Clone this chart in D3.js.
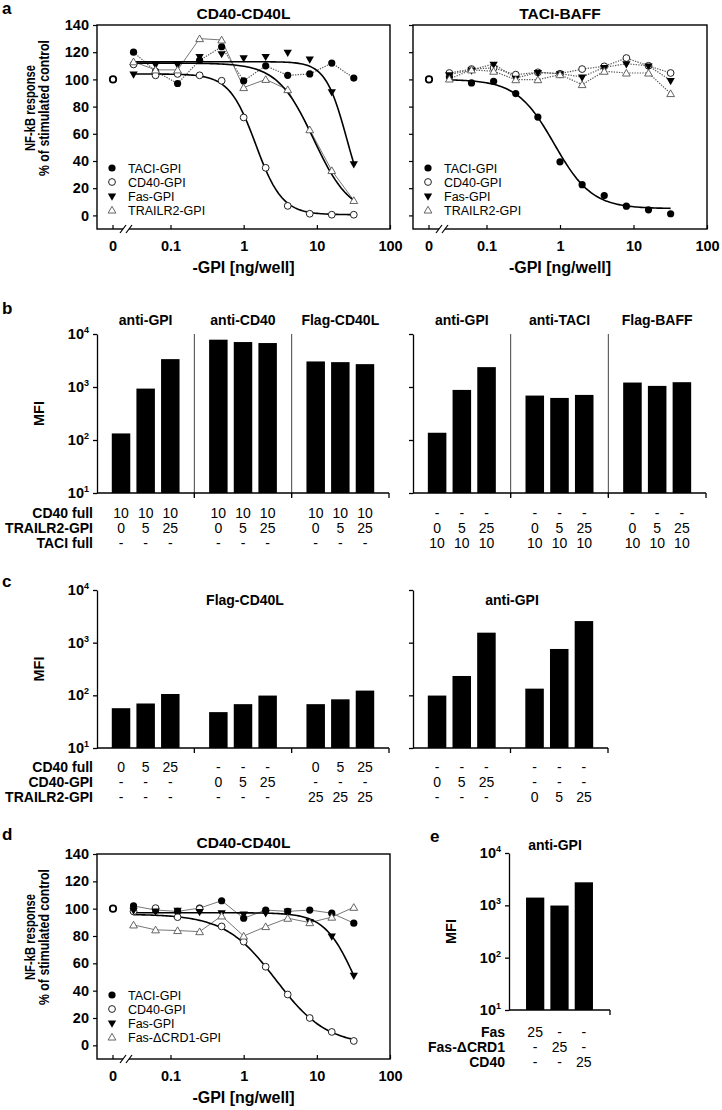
<!DOCTYPE html>
<html><head><meta charset="utf-8">
<script src="https://cdn.jsdelivr.net/npm/d3@7"></script>
<style>body{margin:0;background:#fff} svg{display:block}</style>
</head><body><svg id="fig" width="722" height="1110"></svg>
<script>
// ---------- DATA ----------
const conc = [0.03125,0.0625,0.125,0.25,0.5,1,2,4,8,16,32];
const zeroControl = 100;
const yTicksDR = [0,20,40,60,80,100,120,140];
const xTickValsDR = [0.1,1,10,100];
const xTickLabelsDR = ["0.1","1","10","100"];
const legendA = ["TACI-GPI","CD40-GPI","Fas-GPI","TRAILR2-GPI"];
const legendD = ["TACI-GPI","CD40-GPI","Fas-GPI","Fas-\u0394CRD1-GPI"];

// panel a, CD40-CD40L
const aL_TACI    = [120,106,97,114,124,99,110,103,104,112,101];
const aL_CD40    = [111,103,104,103,99,72,35,7,1.2,0.5,0.5];
const aL_Fas     = [104,111,111,117,119,116,117,120,115,91,38];
const aL_TRAILR2 = [113,107,107,130,129,94,100,92.5,63,33,11];
// fit parameters [top, bottom, IC50, hill]
const aL_fitCD40    = [104,0.5,1.46,2.4];
const aL_fitFas     = [113,0,25.6,3.0];
const aL_fitTRAILR2 = [112,0,9.05,1.75];

// panel a, TACI-BAFF
const aR_TACI    = [102,97.4,98.6,89.6,72.3,39.4,22.6,14.6,6.8,4.1,1.2];
const aR_CD40    = [104.7,107.6,108.4,103.5,105.2,104.2,107.6,109.6,115.7,110,104.7];
const aR_Fas     = [103.5,107,111.3,101,105.2,104.2,101.8,108.9,111.5,110,99.3];
const aR_TRAILR2 = [100.3,107,106,99.8,99.8,103.5,96.2,106,104.7,104.7,89.6];
const aR_fitTACI = [100,5,0.836,1.7];

// panel d, CD40-CD40L
const d_TACI     = [102,99,98,100.4,105.8,93,99,98,99,96.7,89.4];
const d_CD40     = [98,100.4,93.8,99.9,87,75.9,57.5,37.2,20,9.8,3.2];
const d_Fas      = [99,98.4,99,98,97,96.2,97,98.4,90.6,80,51.4];
const d_FasDCRD1 = [88.1,84.5,84,83.2,94.7,80,86.9,93,89.8,93.8,101];
const d_fitCD40  = [96,0,2.75,1.25];
const d_fitFas   = [97,0,33.6,2.09];

// bar panels (MFI)
const logTicks = [10,100,1000,10000];
const logTickExp = ["1","2","3","4"];
const bGroupsL = ["anti-GPI","anti-CD40","Flag-CD40L"];
const bValsL = [[133,933,3357],[7810,7050,6750],[3035,2945,2700]];
const bGroupsR = ["anti-GPI","anti-TACI","Flag-BAFF"];
const bValsR = [[137,881,2371],[689,622,709],[1213,1049,1232]];
const bRowLabels = ["CD40 full","TRAILR2-GPI","TACI full"];
const bRowsL = [["10","10","10"],["0","5","25"],["-","-","-"]];
const bRowsR = [["-","-","-"],["0","5","25"],["10","10","10"]];

const cTitleL = "Flag-CD40L", cTitleR = "anti-GPI";
const cValsL = [[57,70,106],[48,68,99],[68,84,123]];
const cValsR = [[99,233,1548],[134,759,2570]];
const cRowLabels = ["CD40 full","CD40-GPI","TRAILR2-GPI"];
const cRowsL = [
  [["0","5","25"],["-","-","-"],["-","-","-"]],
  [["-","-","-"],["0","5","25"],["-","-","-"]],
  [["0","5","25"],["-","-","-"],["25","25","25"]]];
const cRowsR = [
  [["-","-","-"],["0","5","25"],["-","-","-"]],
  [["-","-","-"],["-","-","-"],["0","5","25"]]];

const eTitle = "anti-GPI";
const eVals = [1406,991,2754];
const eRowLabels = ["Fas","Fas-\u0394CRD1","CD40"];
const eRows = [["25","-","-"],["-","25","-"],["-","-","25"]];

// ---------- DRAWING ----------
const FONT = "'Liberation Sans', Arial, Helvetica, sans-serif";
const svg = d3.select("#fig");

function txt(g, x, y, s, o = {}) {
  const t = g.append("text").attr("x", x).attr("y", y).text(s)
    .attr("font-family", FONT).attr("font-size", o.size || 14)
    .attr("font-weight", o.bold ? "bold" : "normal")
    .attr("text-anchor", o.anchor || "middle").attr("fill", "#000");
  if (o.rotate) t.attr("transform", `rotate(-90,${x},${y})`);
  if (o.len) t.attr("textLength", o.len).attr("lengthAdjust", "spacingAndGlyphs");
  return t;
}

function symbol(g, kind, x, y) {
  if (kind === "fc") g.append("circle").attr("cx", x).attr("cy", y).attr("r", 3.6).attr("fill", "#000");
  else if (kind === "oc") g.append("circle").attr("cx", x).attr("cy", y).attr("r", 3.4).attr("fill", "#fff").attr("stroke", "#222").attr("stroke-width", 1);
  else if (kind === "ft") g.append("path").attr("d", d3.symbol(d3.symbolTriangle, 30)()).attr("transform", `translate(${x},${y}) rotate(180)`).attr("fill", "#000");
  else if (kind === "ot") g.append("path").attr("d", d3.symbol(d3.symbolTriangle, 26)()).attr("transform", `translate(${x},${y + 0.8})`).attr("fill", "#fff").attr("stroke", "#555").attr("stroke-width", 0.9);
}

function fitVal(p, xv) { return p[1] + (p[0] - p[1]) / (1 + Math.pow(xv / p[2], p[3])); }

function drawDR(c) {
  const g = svg.append("g");
  const y = d3.scaleLinear().domain([-10, 140]).range([c.bottom, c.top]);
  const x = d3.scaleLog().domain([0.1, 100]).range([c.left + 73.5, c.right]);
  const x0 = c.left + 16;

  const ya = g.append("g").attr("transform", `translate(${c.left},0)`)
    .call(d3.axisLeft(y).tickValues(yTicksDR).tickSize(4).tickPadding(4).tickFormat(c.yLabels ? d3.format("d") : ""));
  ya.select(".domain").remove();
  ya.selectAll("line").attr("stroke", "#000").attr("stroke-width", 1.2);
  ya.selectAll("text").attr("font-family", FONT).attr("font-size", 14.5).attr("font-weight", "bold").attr("fill", "#000");

  const xa = g.append("g").attr("transform", `translate(0,${c.bottom})`)
    .call(d3.axisBottom(x).tickValues(xTickValsDR).tickSize(-4).tickPadding(12).tickFormat((d, i) => xTickLabelsDR[i]));
  xa.select(".domain").remove();
  xa.selectAll("line").attr("stroke", "#000").attr("stroke-width", 1.2);
  xa.selectAll("text").attr("font-family", FONT).attr("font-size", 14.5).attr("font-weight", "bold").attr("fill", "#000");
  g.append("line").attr("x1", x0).attr("x2", x0).attr("y1", c.bottom).attr("y2", c.bottom - 4).attr("stroke", "#000").attr("stroke-width", 1.2);
  txt(g, x0, c.bottom + 22, "0", { bold: true, size: 14.5 });

  g.append("rect").attr("x", c.left).attr("y", c.top).attr("width", c.right - c.left).attr("height", c.bottom - c.top)
    .attr("fill", "none").attr("stroke", "#000").attr("stroke-width", 1.4);

  const bx = c.left + 29;
  g.append("rect").attr("x", bx - 3).attr("y", c.bottom - 2).attr("width", 6).attr("height", 4).attr("fill", "#fff");
  [-3, 3].forEach(o => g.append("line").attr("x1", bx + o - 3).attr("y1", c.bottom + 4).attr("x2", bx + o + 3).attr("y2", c.bottom - 4)
    .attr("stroke", "#000").attr("stroke-width", 1.2));

  const line = d3.line().x((d, i) => x(conc[i])).y(d => y(d));
  c.series.forEach(s => {
    if (s.line === "dotted") g.append("path").attr("d", line(s.vals)).attr("fill", "none").attr("stroke", "#555").attr("stroke-width", 1.2).attr("stroke-dasharray", "1.3,1.3");
    if (s.line === "solid") g.append("path").attr("d", line(s.vals)).attr("fill", "none").attr("stroke", "#777").attr("stroke-width", 1);
  });
  const lx0 = Math.log10(conc[0]), lx1 = Math.log10(conc[conc.length - 1]);
  const grid = d3.range(0, 121).map(i => Math.pow(10, lx0 + (lx1 - lx0) * i / 120));
  c.series.forEach(s => {
    if (s.fit) g.append("path").attr("d", d3.line().x(d => x(d)).y(d => y(fitVal(s.fit, d)))(grid))
      .attr("fill", "none").attr("stroke", "#000").attr("stroke-width", 1.6);
  });
  c.series.forEach(s => s.vals.forEach((v, i) => symbol(g, s.sym, x(conc[i]), y(v))));
  g.append("circle").attr("cx", x0).attr("cy", y(zeroControl)).attr("r", 3.2).attr("fill", "#fff").attr("stroke", "#000").attr("stroke-width", 1.8);

  c.legend.forEach((name, i) => {
    const ly = c.legendY + i * 14;
    symbol(g, c.series[i].sym, c.left + 15, ly);
    txt(g, c.left + 31, ly + 4.5, name, { size: 12.5, anchor: "start" });
  });

  const cx = (c.left + c.right) / 2;
  txt(g, cx, c.top - 6, c.title, { size: 15.5, bold: true });
  txt(g, cx, c.bottom + 44, "-GPI [ng/well]", { size: 16, bold: true });
  if (c.yLabels) {
    const cy = c.top + 83;
    txt(g, 35, cy, "NF-kB response", { size: 15.5, bold: true, rotate: true, len: 86 });
    txt(g, 49, cy, "% of stimulated control", { size: 15.5, bold: true, rotate: true, len: 136 });
  }
}

function logLabel(g, x, y, exp) {
  const t = g.append("text").attr("x", x).attr("y", y).attr("text-anchor", "end")
    .attr("font-family", FONT).attr("font-weight", "bold").attr("fill", "#000");
  t.append("tspan").attr("font-size", 14.5).text("10");
  t.append("tspan").attr("font-size", 9).attr("dy", -6).text(exp);
}

function drawBars(c) {
  const g = svg.append("g");
  const y = d3.scaleLog().domain([10, 10000]).range([c.bottom, c.top]);
  const gx = d3.scaleBand().domain(d3.range(c.vals.length)).range([c.x0, c.x1]).padding(0);
  const ix = d3.scaleBand().domain([0, 1, 2]).range([0, gx.bandwidth()]).paddingInner(0.25).paddingOuter(c.outer || 0.6);

  if (c.separators) d3.range(1, c.vals.length).forEach(k => {
    const sx = gx(k);
    g.append("line").attr("x1", sx).attr("x2", sx).attr("y1", c.top).attr("y2", c.bottom + 4).attr("stroke", "#444").attr("stroke-width", 1);
  });
  c.vals.forEach((grp, gi) => grp.forEach((v, i) => {
    g.append("rect").attr("x", gx(gi) + ix(i)).attr("y", y(v)).attr("width", ix.bandwidth()).attr("height", c.bottom - y(v)).attr("fill", "#000");
  }));
  const ya = g.append("g").attr("transform", `translate(${c.x0},0)`)
    .call(d3.axisLeft(y).tickValues(logTicks).tickSize(4).tickSizeOuter(0).tickFormat(""));
  ya.selectAll("line").attr("stroke", "#000").attr("stroke-width", 1.3);
  ya.select(".domain").attr("stroke", "#000").attr("stroke-width", 1.3);
  if (c.yLabels) {
    logTicks.forEach((t, i) => logLabel(g, c.x0 - 8, y(t) + 5, logTickExp[i]));
    txt(g, c.x0 - 53, (c.top + c.bottom) / 2, "MFI", { size: 14.5, bold: true, rotate: true });
  }
  g.append("line").attr("x1", c.x0).attr("x2", c.x1).attr("y1", c.bottom).attr("y2", c.bottom).attr("stroke", "#000").attr("stroke-width", 1.3);
  d3.range(1, c.vals.length + 1).forEach(k => {
    const tx = k < c.vals.length ? gx(k) : c.x1;
    g.append("line").attr("x1", tx).attr("x2", tx).attr("y1", c.bottom).attr("y2", c.bottom + 5).attr("stroke", "#000").attr("stroke-width", 1.3);
  });
  if (c.groupTitles) c.groupTitles.forEach((t, gi) => txt(g, gx(gi) + gx.bandwidth() / 2, c.titleY, t, { size: 14, bold: true }));
  if (c.title) txt(g, c.titleX, c.titleY, c.title, { size: 14, bold: true });
  if (c.rowLabels) c.rowLabels.forEach((r, ri) => txt(g, c.x0 - 4, c.rowY[ri] + 5, r, { size: 14, bold: true, anchor: "end" }));
  c.vals.forEach((grp, gi) => {
    const rows = c.rowsPerGroup ? c.rows[gi] : c.rows;
    rows.forEach((row, ri) => row.forEach((s, i) => {
      txt(g, gx(gi) + ix(i) + ix.bandwidth() / 2, c.rowY[ri] + 5, s, { size: 14 });
    }));
  });
}

[["a", 2, 14], ["b", 2, 314], ["c", 2, 587], ["d", 2, 840], ["e", 430, 842]].forEach(([l, x, y]) =>
  txt(svg, x, y, l, { size: 17, bold: true, anchor: "start" }));

drawDR({ left: 97, right: 390, top: 25, bottom: 229, title: "CD40-CD40L", yLabels: true, legendY: 168, legend: legendA,
  series: [
    { vals: aL_TACI, sym: "fc", line: "dotted" },
    { vals: aL_CD40, sym: "oc", fit: aL_fitCD40 },
    { vals: aL_Fas, sym: "ft", fit: aL_fitFas },
    { vals: aL_TRAILR2, sym: "ot", line: "solid", fit: aL_fitTRAILR2 }] });
drawDR({ left: 413, right: 707, top: 25, bottom: 229, title: "TACI-BAFF", yLabels: false, legendY: 168, legend: legendA,
  series: [
    { vals: aR_TACI, sym: "fc", fit: aR_fitTACI },
    { vals: aR_CD40, sym: "oc", line: "dotted" },
    { vals: aR_Fas, sym: "ft", line: "dotted" },
    { vals: aR_TRAILR2, sym: "ot", line: "dotted" }] });

drawBars({ x0: 97, x1: 389, top: 334, bottom: 493, vals: bValsL, separators: true, yLabels: true,
  groupTitles: bGroupsL, titleY: 325, rowLabels: bRowLabels, rowY: [513, 528, 543], rows: bRowsL });
drawBars({ x0: 413, x1: 706, top: 334, bottom: 493, vals: bValsR, separators: true, yLabels: false,
  groupTitles: bGroupsR, titleY: 325, rowY: [513, 528, 543], rows: bRowsR });

drawBars({ x0: 97, x1: 389, top: 590, bottom: 748, vals: cValsL, separators: false, yLabels: true,
  title: cTitleL, titleX: 245, titleY: 605, rowLabels: cRowLabels, rowY: [767, 782, 797], rows: cRowsL, rowsPerGroup: true });
drawBars({ x0: 413, x1: 608, top: 590, bottom: 748, vals: cValsR, separators: false, yLabels: false,
  title: cTitleR, titleX: 512, titleY: 605, rowY: [767, 782, 797], rows: cRowsR, rowsPerGroup: true });

drawDR({ left: 97, right: 390, top: 854, bottom: 1059, title: "CD40-CD40L", yLabels: true, legendY: 995, legend: legendD,
  series: [
    { vals: d_TACI, sym: "fc", line: "solid" },
    { vals: d_CD40, sym: "oc", fit: d_fitCD40 },
    { vals: d_Fas, sym: "ft", fit: d_fitFas },
    { vals: d_FasDCRD1, sym: "ot", line: "solid" }] });

drawBars({ x0: 509, x1: 610, top: 853, bottom: 1010, vals: [eVals], outer: 0.7, separators: false, yLabels: true,
  title: eTitle, titleX: 555, titleY: 850, rowLabels: eRowLabels, rowY: [1032, 1047, 1062], rows: eRows, rowsPerGroup: false });
</script></body></html>
